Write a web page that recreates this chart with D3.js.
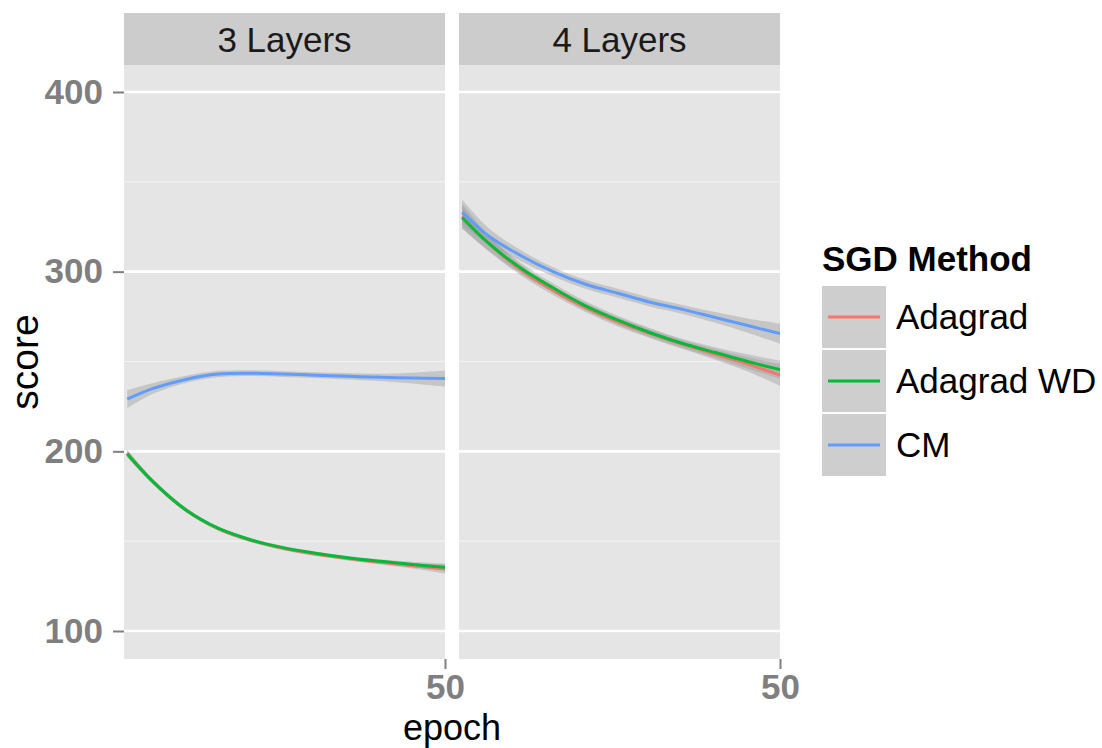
<!DOCTYPE html>
<html>
<head>
<meta charset="utf-8">
<script src="https://cdn.jsdelivr.net/npm/d3@7"></script>
<style>
  body { margin: 0; background: #fff; }
  svg { font-family: "Liberation Sans", Arial, sans-serif; }
</style>
</head>
<body>
<svg id="chart" width="1102" height="748"></svg>
<script>
const epochs = [1, 5, 10, 15, 20, 25, 30, 35, 40, 45, 50];
const facets = ["3 Layers", "4 Layers"];
const methods = ["Adagrad", "Adagrad WD", "CM"];
const colors = ["#F8766D", "#00BA38", "#619CFF"];

// 3 layers
const adagrad3   = [199, 183, 167.5, 157, 150.5, 146, 142.8, 140.3, 138.2, 136.3, 134.5];
const adagradWD3 = [198.5, 183, 167.5, 157.2, 150.8, 146.4, 143.3, 140.8, 138.8, 137, 135.5];
const cm3        = [229, 235, 240, 243, 243.5, 243, 242.4, 241.8, 241.2, 240.8, 240.5];
// 4 layers
const adagrad4   = [331, 316, 301, 289.5, 280, 272, 265.5, 259.5, 254, 248.5, 242.5];
const adagradWD4 = [330, 316, 302, 291, 281, 273, 266, 260, 255, 250, 245.5];
const cm4        = [333, 320, 309, 300, 293, 288, 283, 279, 274.5, 270, 265.5];

// half width of the confidence band
const seAdagrad3   = [2, 1.5, 1.2, 1, 1, 1, 1, 1, 1.2, 1.5, 2.5];
const seAdagradWD3 = [2, 1.5, 1.2, 1, 1, 1, 1, 1, 1.2, 1.5, 2];
const seCM3        = [5, 3, 2, 1.8, 1.6, 1.6, 1.6, 1.8, 2, 3, 4.5];
const seAdagrad4   = [7, 4.5, 3, 2.5, 2.5, 2.5, 2.5, 2.5, 3, 4, 6];
const seAdagradWD4 = [6, 4, 3, 2.5, 2.5, 2.5, 2.5, 2.5, 3, 4, 5];
const seCM4        = [7, 4.5, 3, 2.5, 2.5, 2.5, 2.5, 2.5, 3, 4, 5.5];

const yMajor = [100, 200, 300, 400];
const yMinor = [150, 250, 350];
const xBreaks = [50];

const series = [
  [adagrad3, adagradWD3, cm3],
  [adagrad4, adagradWD4, cm4]
];
const bands = [
  [seAdagrad3, seAdagradWD3, seCM3],
  [seAdagrad4, seAdagradWD4, seCM4]
];

let svg = d3.select('#chart');

let panelTop = 65, panelBottom = 659, stripTop = 13;
let panelLeft = [124, 459], panelW = 321;

let y = d3.scaleLinear().domain([100, 400]).range([631, 92]);
let curve = d3.curveCatmullRom.alpha(0.5);

facets.forEach(function(f, i) {
    let x = d3.scaleLinear().domain([0.5, 50]).range([panelLeft[i], panelLeft[i] + panelW]);
    let g = svg.append('g');

    // strip
    g.append('rect')
        .attr('x', panelLeft[i]).attr('y', stripTop)
        .attr('width', panelW).attr('height', panelTop - stripTop)
        .attr('fill', '#cccccc');
    g.append('text')
        .attr('x', panelLeft[i] + panelW / 2).attr('y', 52)
        .attr('text-anchor', 'middle')
        .attr('font-size', 35).attr('fill', '#1a1a1a')
        .text(f);

    // panel background
    g.append('rect')
        .attr('x', panelLeft[i]).attr('y', panelTop)
        .attr('width', panelW).attr('height', panelBottom - panelTop)
        .attr('fill', '#e5e5e5');

    // grid
    g.selectAll('.minor').data(yMinor).join('line')
        .attr('x1', panelLeft[i]).attr('x2', panelLeft[i] + panelW)
        .attr('y1', d => y(d)).attr('y2', d => y(d))
        .attr('stroke', '#f2f2f2').attr('stroke-width', 1.2);
    g.selectAll('.major').data(yMajor).join('line')
        .attr('x1', panelLeft[i]).attr('x2', panelLeft[i] + panelW)
        .attr('y1', d => y(d)).attr('y2', d => y(d))
        .attr('stroke', '#ffffff').attr('stroke-width', 2.6);

    let clipId = 'clip' + i;
    svg.append('clipPath').attr('id', clipId).append('rect')
        .attr('x', panelLeft[i]).attr('y', panelTop)
        .attr('width', panelW).attr('height', panelBottom - panelTop);
    let marks = g.append('g').attr('clip-path', 'url(#' + clipId + ')');

    // confidence ribbons
    series[i].forEach(function(vals, k) {
        let area = d3.area()
            .x((d, j) => x(epochs[j]))
            .y0((d, j) => y(d - bands[i][k][j]))
            .y1((d, j) => y(d + bands[i][k][j]))
            .curve(curve);
        marks.append('path')
            .attr('d', area(vals))
            .attr('fill', '#999999').attr('fill-opacity', 0.4);
    });
    // smooth lines
    series[i].forEach(function(vals, k) {
        let line = d3.line()
            .x((d, j) => x(epochs[j]))
            .y(d => y(d))
            .curve(curve);
        marks.append('path')
            .attr('d', line(vals))
            .attr('fill', 'none')
            .attr('stroke', colors[k]).attr('stroke-width', 3);
    });

    // x axis
    let xAxis = g.append('g').attr('transform', 'translate(0,' + panelBottom + ')')
        .call(d3.axisBottom(x).tickValues(xBreaks).tickSize(10).tickPadding(5).tickFormat(d3.format('d')));
    xAxis.select('.domain').remove();
    xAxis.selectAll('line').attr('stroke', '#7f7f7f').attr('stroke-width', 2);
    xAxis.selectAll('text')
        .attr('font-size', 35).attr('font-weight', 'bold').attr('fill', '#7f7f7f')
        .attr('font-family', '"Liberation Sans", Arial, sans-serif');
});

// y axis
let yAxis = svg.append('g').attr('transform', 'translate(' + panelLeft[0] + ',0)')
    .call(d3.axisLeft(y).tickValues(yMajor).tickSize(11).tickPadding(10));
yAxis.select('.domain').remove();
yAxis.selectAll('line').attr('stroke', '#7f7f7f').attr('stroke-width', 2);
yAxis.selectAll('text')
    .attr('font-size', 35).attr('font-weight', 'bold').attr('fill', '#7f7f7f')
    .attr('font-family', '"Liberation Sans", Arial, sans-serif');

// axis titles
svg.append('text')
    .attr('x', (panelLeft[0] + panelLeft[1] + panelW) / 2).attr('y', 740)
    .attr('text-anchor', 'middle').attr('font-size', 36)
    .text('epoch');
svg.append('text')
    .attr('transform', 'translate(38,' + (panelTop + panelBottom) / 2 + ') rotate(-90)')
    .attr('text-anchor', 'middle').attr('font-size', 39)
    .text('score');

// legend
let legend = svg.append('g').attr('transform', 'translate(822,0)');
legend.append('text')
    .attr('x', 0).attr('y', 271)
    .attr('font-size', 35).attr('font-weight', 'bold')
    .text('SGD Method');
let keys = legend.selectAll('.key').data(methods).join('g')
    .attr('transform', (d, k) => 'translate(0,' + (286 + k * 64) + ')');
keys.append('rect')
    .attr('width', 64).attr('height', 62)
    .attr('fill', '#cecece');
keys.append('line')
    .attr('x1', 6).attr('x2', 58).attr('y1', 31).attr('y2', 31)
    .attr('stroke', (d, k) => colors[k]).attr('stroke-width', 3);
keys.append('text')
    .attr('x', 74).attr('y', 31).attr('dy', '0.35em')
    .attr('font-size', 35)
    .text(d => d);
</script>
</body>
</html>
